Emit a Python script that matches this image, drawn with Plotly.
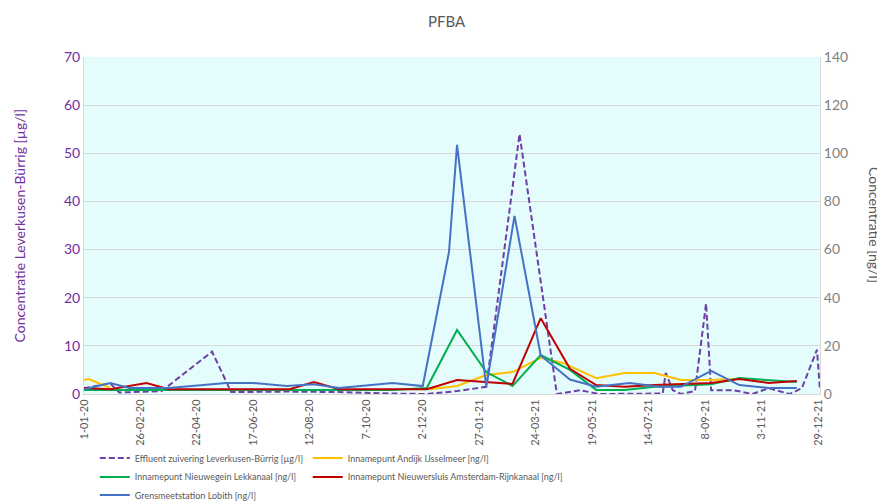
import plotly.graph_objects as go
from datetime import date, timedelta

# ---------------- data ----------------
eff_dates = ["2020-01-01", "2020-01-27", "2020-02-05", "2020-03-18", "2020-05-07", "2020-05-26",
             "2020-07-20", "2020-09-10", "2020-11-02", "2020-12-06", "2021-01-05", "2021-02-03",
             "2021-03-08", "2021-04-14", "2021-05-07", "2021-05-26", "2021-07-28", "2021-07-31",
             "2021-08-07", "2021-08-15", "2021-08-29", "2021-09-09", "2021-09-14", "2021-10-06",
             "2021-10-25", "2021-11-10", "2021-12-01", "2021-12-13", "2021-12-28", "2021-12-31"]
eff_vals = [1.2, 2.2, 0.3, 0.6, 8.8, 0.4,
            0.5, 0.4, 0.1, 0.0, 0.6, 1.5,
            54.0, 0.0, 0.8, 0.0, 0.1, 4.4,
            0.8, 0.0, 0.6, 18.8, 0.8, 0.8,
            0.0, 1.2, 0.0, 1.2, 9.2, 0.8]

andijk_dates = ["2020-01-01", "2020-01-06", "2020-01-27", "2020-06-01",
                "2020-12-09", "2021-01-05", "2021-02-03", "2021-03-01", "2021-03-29", "2021-04-20",
                "2021-05-23", "2021-06-20", "2021-07-20", "2021-08-15", "2021-09-14", "2021-10-06"]
andijk_vals = [5.8, 6.2, 2.5, None,
               2.0, 3.3, 7.9, 9.1, 15.0, 12.9,
               6.6, 8.7, 8.7, 5.8, 5.8, 6.2]

riv_dates = ["2020-01-01", "2020-01-27", "2020-03-03", "2020-03-25", "2020-04-22", "2020-05-21",
             "2020-06-16", "2020-07-23", "2020-08-16", "2020-09-10", "2020-10-07", "2020-11-02",
             "2020-12-06", "2021-01-05", "2021-02-03", "2021-03-01", "2021-03-29", "2021-04-27",
             "2021-05-23", "2021-06-20", "2021-07-20", "2021-08-15", "2021-09-14", "2021-10-12",
             "2021-11-10", "2021-12-08"]
nieuwegein_vals = [1.7, 1.7, 1.7, 1.7, 1.7, 1.7,
                   1.7, 1.7, 1.7, 1.7, 1.7, 1.7,
                   2.5, 26.6, 9.1, 3.3, 16.2, 10.0,
                   1.7, 1.7, 3.0, 3.5, 4.0, 6.6,
                   5.8, 5.0]
nieuwersluis_vals = [2.5, 2.0, 4.6, 2.0, 2.0, 2.0,
                     2.0, 2.0, 5.0, 2.0, 2.0, 2.0,
                     2.0, 5.8, 5.0, 4.2, 31.5, 10.5,
                     3.7, 3.0, 3.7, 4.2, 4.6, 6.2,
                     4.6, 5.4]

lobith_dates = ["2020-01-01", "2020-01-27", "2020-02-15", "2020-03-25", "2020-05-21", "2020-06-16",
                "2020-07-20", "2020-08-16", "2020-09-10", "2020-11-02", "2020-12-02", "2020-12-28",
                "2021-01-05", "2021-02-03", "2021-03-03", "2021-03-29", "2021-04-27", "2021-05-23",
                "2021-06-25", "2021-07-25", "2021-08-15", "2021-09-14", "2021-10-12", "2021-11-10",
                "2021-12-08"]
lobith_vals = [2.0, 4.6, 2.5, 2.5, 4.6, 4.6,
               3.3, 4.0, 2.5, 4.6, 3.3, 59.0,
               103.5, 3.0, 74.0, 16.0, 6.0, 3.0,
               4.6, 3.0, 3.0, 9.6, 3.7, 2.5,
               2.5]

names = ["Effluent zuivering Leverkusen-Bürrig [µg/l]",
         "Innamepunt Andijk IJsselmeer [ng/l]",
         "Innamepunt Nieuwegein Lekkanaal [ng/l]",
         "Innamepunt Nieuwersluis Amsterdam-Rijnkanaal [ng/l]",
         "Grensmeetstation Lobith [ng/l]"]

tick_dates = [(date(2020, 1, 1) + timedelta(days=56 * i)).isoformat() for i in range(14)]
tick_text = [f"{int(d[8:10])}-{d[5:7]}-{d[2:4]}" for d in tick_dates]

# ---------------- figure ----------------
FONT = "Lato, Liberation Sans, sans-serif"
PURPLE = "#7030A0"
GREY = "#595959"

fig = go.Figure()
fig.add_trace(go.Scatter(x=eff_dates, y=eff_vals, name=names[0], mode="lines",
                         line=dict(color="#6F3FA8", width=2, dash="6px,3px"),
                         yaxis="y", legend="legend"))
fig.add_trace(go.Scatter(x=andijk_dates, y=andijk_vals, name=names[1], mode="lines",
                         line=dict(color="#FFC000", width=2), yaxis="y2", legend="legend2"))
fig.add_trace(go.Scatter(x=riv_dates, y=nieuwegein_vals, name=names[2], mode="lines",
                         line=dict(color="#00B050", width=2), yaxis="y2", legend="legend3"))
fig.add_trace(go.Scatter(x=riv_dates, y=nieuwersluis_vals, name=names[3], mode="lines",
                         line=dict(color="#C00000", width=2), yaxis="y2", legend="legend4"))
fig.add_trace(go.Scatter(x=lobith_dates, y=lobith_vals, name=names[4], mode="lines",
                         line=dict(color="#4472C4", width=2), yaxis="y2", legend="legend5"))

legend_common = dict(orientation="h", xref="paper", yref="paper", yanchor="middle", xanchor="left",
                     font=dict(family=FONT, size=9, color=GREY), bgcolor="rgba(0,0,0,0)",
                     itemwidth=30)
C1, C2 = 0.0147, 0.304
R1, R2, R3 = -0.190, -0.246, -0.300

fig.update_layout(
    width=877, height=496,
    margin=dict(l=76, r=65, t=49, b=110, autoexpand=False),
    paper_bgcolor="white",
    plot_bgcolor="#E4FCFC",
    font=dict(family=FONT, color=GREY),
    title=dict(text="PFBA", x=0.5, xanchor="center", y=0.972, yanchor="middle",
               font=dict(family=FONT, size=15, color=GREY)),
    showlegend=True,
    legend=dict(x=C1, y=R1, **legend_common),
    legend2=dict(x=C2, y=R1, **legend_common),
    legend3=dict(x=C1, y=R2, **legend_common),
    legend4=dict(x=C2, y=R2, **legend_common),
    legend5=dict(x=C1, y=R3, **legend_common),
    xaxis=dict(type="date", range=["2020-01-01", "2021-12-31"],
               tickmode="array", tickvals=tick_dates, ticktext=tick_text, tickangle=-90,
               tickfont=dict(family=FONT, size=11, color=GREY),
               showgrid=False, showline=True, linecolor="#D9D9D9", linewidth=1,
               ticks="", zeroline=False, automargin=False),
    yaxis=dict(range=[0, 70], dtick=10, tickfont=dict(family=FONT, size=14, color=PURPLE),
               showgrid=True, gridcolor="#D9D9D9", gridwidth=1, zeroline=False,
               showline=True, linecolor="#D9D9D9", ticks="", automargin=False),
    yaxis2=dict(range=[0, 140], dtick=20, overlaying="y", side="right",
                tickfont=dict(family=FONT, size=14, color="#7F7F7F"), automargin=False,
                showgrid=False, zeroline=False, showline=True, linecolor="#D9D9D9", ticks=""),
)

fig.add_annotation(text="Concentratie Leverkusen-Bürrig [µg/l]", xref="paper", yref="paper",
                   x=-0.087, y=0.5, textangle=-90, showarrow=False,
                   xanchor="center", yanchor="middle",
                   font=dict(family=FONT, size=14, color=PURPLE))
fig.add_annotation(text="Concentratie [ng/l]", xref="paper", yref="paper", x=1.074, y=0.5,
                   textangle=90, showarrow=False, xanchor="center", yanchor="middle",
                   font=dict(family=FONT, size=14, color=GREY))

fig.write_html("out.html")
